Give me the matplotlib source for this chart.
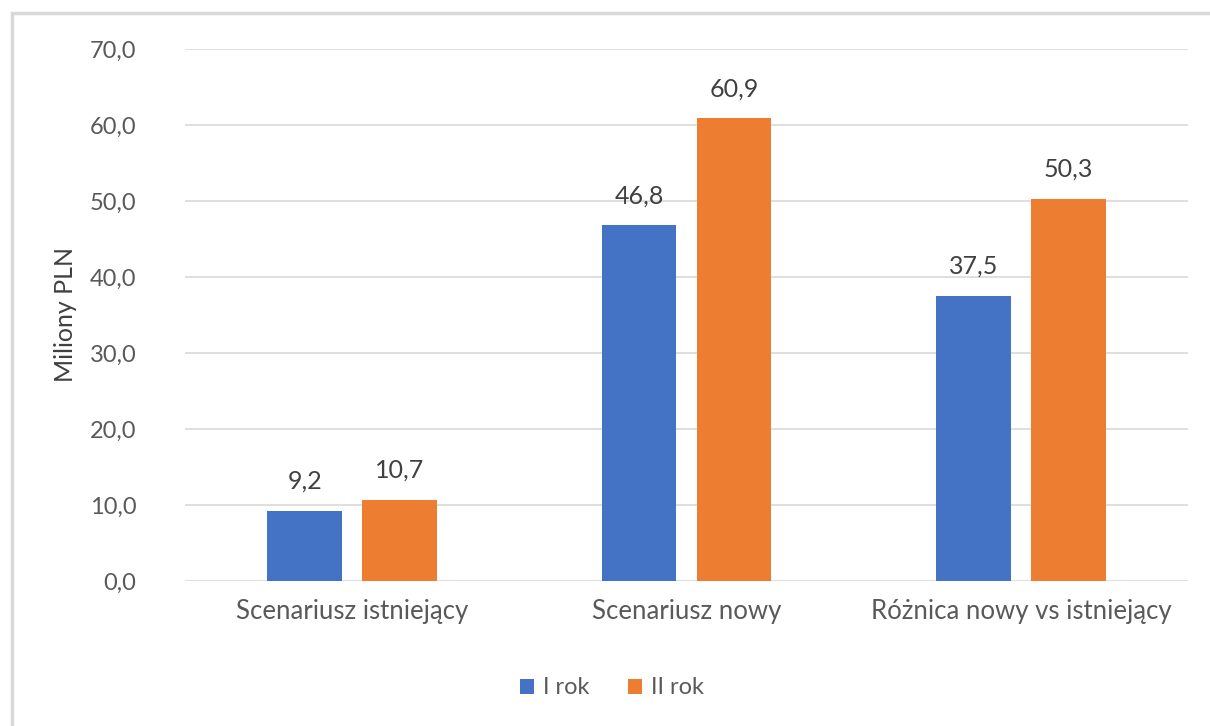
import matplotlib.pyplot as plt
from matplotlib.patches import Rectangle

categories = ["Scenariusz istniejący", "Scenariusz nowy", "Różnica nowy vs istniejący"]
rok1 = [9.2, 46.8, 37.5]
rok2 = [10.7, 60.9, 50.3]
series_names = ["I rok", "II rok"]

plt.rcParams['font.family'] = ['Lato', 'DejaVu Sans']
text_col = '#595959'
fs = 17

fig = plt.figure(figsize=(12.1, 7.26), dpi=100)
# light frame of the chart area
fig.patches.append(Rectangle((12 / 1210, -0.05), 1.1, 1 - 13 / 726 + 0.05, transform=fig.transFigure,
                             fill=False, edgecolor='#d9d9d9', linewidth=2.5))

ax = fig.add_axes([185 / 1210, 1 - 581 / 726, (1188 - 185) / 1210, (581 - 49) / 726])

x = list(range(len(categories)))
w = 0.224
off = 0.142
b1 = ax.bar([i - off for i in x], rok1, w, color='#4472C4', label=series_names[0], zorder=3)
b2 = ax.bar([i + off for i in x], rok2, w, color='#ED7D31', label=series_names[1], zorder=3)

for bars in (b1, b2):
    for b in bars:
        ax.annotate(f"{b.get_height():.1f}".replace('.', ','),
                    (b.get_x() + b.get_width() / 2, b.get_height()),
                    xytext=(0, 13), textcoords='offset points', ha='center', va='bottom',
                    fontsize=18, color='#404040')

ax.set_xlim(-0.5, 2.5)
ax.set_ylim(0, 70)
ax.set_yticks(range(0, 71, 10))
ax.set_yticklabels([f"{v},0" for v in range(0, 71, 10)])
ax.set_xticks(x)
ax.set_xticklabels(categories)
ax.tick_params(axis='both', length=0, labelsize=fs, labelcolor=text_col)
ax.tick_params(axis='x', labelsize=18.5, pad=13)
ax.tick_params(axis='y', pad=35)
ax.grid(axis='y', color='#d9d9d9', linewidth=1.2, zorder=0)
for s in ax.spines.values():
    s.set_visible(False)

ax.set_ylabel("Miliony PLN", fontsize=18, color='#404040', labelpad=9)

fig.legend(handles=[b1, b2], loc='center', bbox_to_anchor=(612 / 1210, 1 - 688 / 726), ncol=2,
           frameon=False, fontsize=fs, labelcolor=text_col, handlelength=0.6, handleheight=0.6,
           handletextpad=0.4, columnspacing=1.6)

fig.savefig("out.png", dpi=100)
